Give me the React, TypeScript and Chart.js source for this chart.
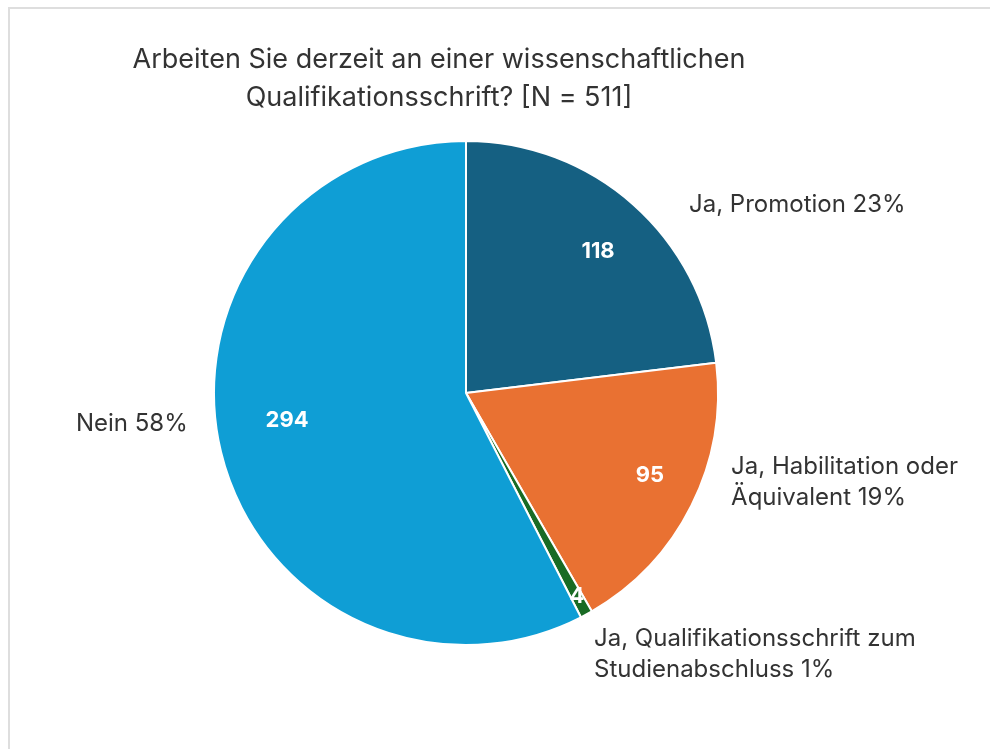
import React, { useEffect, useRef } from "react";
import { Chart, registerables } from "chart.js";

Chart.register(...registerables);

const titleLines = ["Arbeiten Sie derzeit an einer wissenschaftlichen", "Qualifikationsschrift? [N = 511]"];
const categories = [
  "Ja, Promotion",
  "Ja, Habilitation oder Äquivalent",
  "Ja, Qualifikationsschrift zum Studienabschluss",
  "Nein",
];
const values = [118, 95, 4, 294];
const colors = ["#156082", "#E97132", "#196B24", "#0F9ED5"];
// how each category label wraps (text only)
const labelLines = [
  ["Ja, Promotion 23%"],
  ["Ja, Habilitation oder", "Äquivalent 19%"],
  ["Ja, Qualifikationsschrift zum", "Studienabschluss 1%"],
  ["Nein 58%"],
];
// label placement relative to pie centre, in units of the radius
const outerLabelOffset = [
  [0.885, -0.746],
  [1.052, 0.294],
  [0.508, 0.976],
  [-1.548, 0.123],
];
const innerLabelOffset = [
  [0.524, -0.563],
  [0.73, 0.325],
  [0.44, 0.806],
  [-0.71, 0.107],
];

const FONT = 'Inter, "Liberation Sans", Arial, sans-serif';

const labelPlugin = {
  id: "pieLabels",
  afterDraw(chart: any) {
    const ctx = chart.ctx;
    const meta = chart.getDatasetMeta(0);
    const arc0 = meta.data[0];
    const cx = arc0.x;
    const cy = arc0.y;
    const R = arc0.outerRadius;
    ctx.save();
    // title
    ctx.fillStyle = "#333333";
    ctx.font = `27px ${FONT}`;
    ctx.textAlign = "center";
    ctx.textBaseline = "middle";
    titleLines.forEach((t, i) => ctx.fillText(t, 439, 60 + i * 38));

    // values inside
    ctx.font = `bold 22px ${FONT}`;
    ctx.fillStyle = "#ffffff";
    ctx.textAlign = "center";
    values.forEach((v, i) => {
      const [fx, fy] = innerLabelOffset[i];
      ctx.fillText(String(v), cx + fx * R, cy + fy * R);
    });

    // category labels
    ctx.font = `24px ${FONT}`;
    ctx.fillStyle = "#333333";
    ctx.textAlign = "left";
    labelLines.forEach((lines, i) => {
      const [fx, fy] = outerLabelOffset[i];
      lines.forEach((l, j) => {
        ctx.fillText(l, cx + fx * R, cy + fy * R + j * 31);
      });
    });
    ctx.restore();
  },
};

export default function App() {
  const ref = useRef<HTMLCanvasElement | null>(null);
  useEffect(() => {
    if (!ref.current) return;
    const chart = new Chart(ref.current, {
      type: "pie",
      data: {
        labels: categories,
        datasets: [
          {
            data: values,
            backgroundColor: colors,
            borderColor: "#ffffff",
            borderWidth: 2,
          },
        ],
      },
      options: {
        responsive: false,
        animation: false,
        layout: { padding: { left: 213, right: 271, top: 140, bottom: 103 } },
        plugins: {
          legend: { display: false },
          tooltip: { enabled: false },
          title: { display: false },
        },
      },
      plugins: [labelPlugin],
    });
    return () => chart.destroy();
  }, []);
  return (
    <div>
      <div
        style={{
          position: "fixed",
          left: 8,
          top: 7,
          width: 1100,
          height: 900,
          borderTop: "2px solid #dedede",
          borderLeft: "2px solid #dedede",
          boxSizing: "border-box",
        }}
      />
      <canvas
        ref={ref}
        width={990}
        height={749}
        style={{ position: "fixed", left: 0, top: 0, width: 990, height: 749 }}
      />
    </div>
  );
}
